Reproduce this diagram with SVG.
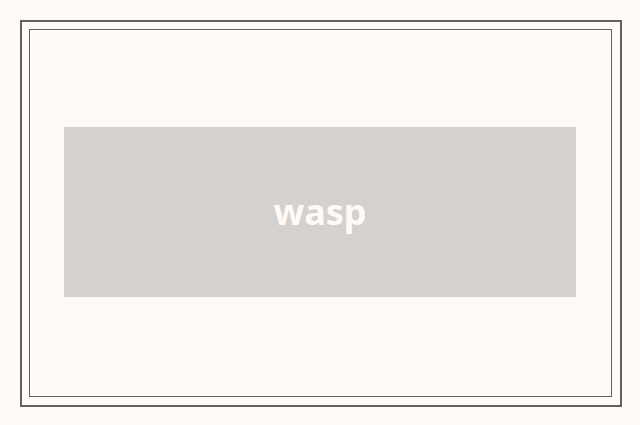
<svg xmlns="http://www.w3.org/2000/svg" width="640" height="425" viewBox="0 0 640 425">
<style>
.frame{fill:none;stroke:#636060}
.label{font-family:"Noto Sans","Open Sans",sans-serif;font-weight:700;font-size:36px;fill:#fffaf6;text-anchor:middle}
</style>
<rect x="0" y="0" width="640" height="425" fill="#fffaf6"/>
<rect class="frame" x="21" y="21" width="600" height="385" stroke-width="2"/>
<rect class="frame" x="29.5" y="29.5" width="582" height="367" stroke-width="1"/>
<g id="node-wasp">
<rect x="64" y="127" width="512" height="170" fill="#d4d1ce"/>
<text class="label" x="320" y="225">wasp</text>
</g>
<g id="connectors"></g>
</svg>
